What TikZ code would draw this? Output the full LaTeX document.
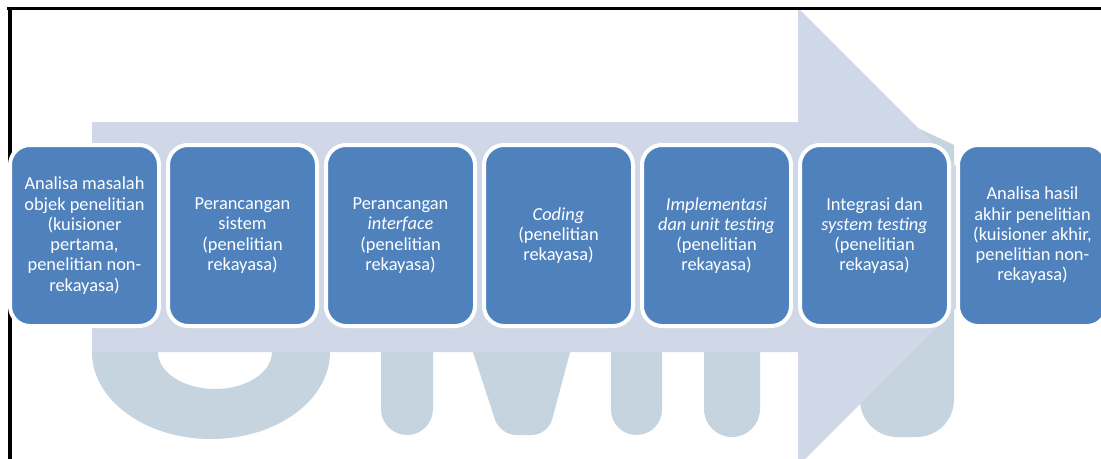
\documentclass[tikz,border=0pt]{standalone}
\usepackage{fontspec}
\setmainfont{Carlito}
\definecolor{stageblue}{HTML}{4F81BD}
\definecolor{arrowfill}{HTML}{D0D8E8}
\definecolor{wmark}{HTML}{C6D4DF}
\begin{document}
\begin{tikzpicture}[x=0.75pt,y=-0.75pt,
  stage/.style={draw=white, line width=3pt, fill=stageblue, rounded corners=15pt,
    minimum width=111.75pt, minimum height=135.75pt, inner sep=0pt,
    align=center, text=white, font=\fontsize{13.8}{15.2}\selectfont},
  frameline/.style={black, line cap=rect}]
\useasboundingbox (0,0) rectangle (1101,458);
\fill[white] (0,0) rectangle (1101,458);

% faint logo letters behind the process arrow
\fill[wmark, even odd rule] (211,352) ellipse [x radius=119, y radius=87]
                            (215,352) ellipse [x radius=57, y radius=37];
\fill[wmark, rounded corners=19.5pt] (381,300) rectangle (433,435);
\fill[wmark, rounded corners=12pt] (456,300) -- (584,300) -- (548,435) -- (500,435) -- cycle;
\fill[wmark, rounded corners=19pt] (611,300) rectangle (662,435);
\fill[wmark, rounded corners=21pt] (704,300) rectangle (760,437);
\fill[wmark] (860,101) -- (954,145) [rounded corners=28pt] -- (954,437) -- (860,437) [sharp corners] -- cycle;

% process arrow
\fill[arrowfill] (92,122) -- (798,122) -- (798,8) -- (1027,237) -- (798,466) -- (798,352) -- (92,352) -- cycle;

% frame
\draw[frameline, line width=2.5pt] (10,470) -- (10,8.3);
\draw[frameline, line width=1.8pt] (8.5,8.3) -- (1110,8.3);

% stages
\node[stage] (s1) at (84.5,235.5) {Analisa masalah\\objek penelitian\\(kuisioner\\pertama,\\penelitian non-\\rekayasa)};
\node[stage] (s2) at (242.5,235.5) {Perancangan\\sistem\\(penelitian\\rekayasa)};
\node[stage] (s3) at (400.5,235.5) {Perancangan\\\textit{interface}\\(penelitian\\rekayasa)};
\node[stage] (s4) at (558.5,235.5) {\textit{Coding}\\(penelitian\\rekayasa)};
\node[stage] (s5) at (716.5,235.5) {\textit{Implementasi}\\\textit{dan unit testing}\\(penelitian\\rekayasa)};
\node[stage] (s6) at (874.5,235.5) {Integrasi dan\\\textit{system testing}\\(penelitian\\rekayasa)};
\node[stage] (s7) at (1032.5,235.5) {Analisa hasil\\akhir penelitian\\(kuisioner akhir,\\penelitian non-\\rekayasa)};
\end{tikzpicture}
\end{document}
